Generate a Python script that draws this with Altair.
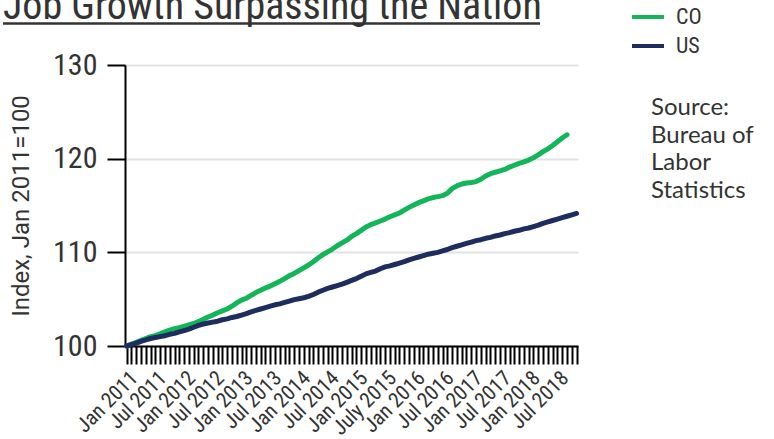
import altair as alt
import pandas as pd

# Monthly employment index, Jan 2011 = 100
co_index = [
    100.0, 100.2, 100.4, 100.6, 100.8, 101.0, 101.1, 101.3, 101.5, 101.7,
    101.85, 101.95, 102.1, 102.25, 102.4, 102.6, 102.85, 103.1, 103.3, 103.55,
    103.75, 103.95, 104.25, 104.6, 104.9, 105.1, 105.4, 105.7, 105.95, 106.2,
    106.4, 106.65, 106.9, 107.2, 107.5, 107.75, 108.05, 108.35, 108.65, 109.0,
    109.4, 109.75, 110.05, 110.35, 110.7, 111.0, 111.3, 111.7, 112.0, 112.35,
    112.7, 112.95, 113.15, 113.35, 113.55, 113.8, 114.0, 114.2, 114.5, 114.8,
    115.05, 115.3, 115.5, 115.7, 115.85, 115.95, 116.05, 116.3, 116.8, 117.1,
    117.3, 117.4, 117.45, 117.55, 117.8, 118.15, 118.4, 118.55, 118.7, 118.85,
    119.1, 119.3, 119.5, 119.65, 119.85, 120.1, 120.4, 120.75, 121.05, 121.4,
    121.8, 122.2, 122.55,
]
us_index = [
    100.0, 100.15, 100.3, 100.5, 100.65, 100.8, 100.9, 101.0, 101.1, 101.25,
    101.35, 101.5, 101.65, 101.8, 102.0, 102.2, 102.35, 102.45, 102.55, 102.65,
    102.8, 102.9, 103.05, 103.15, 103.3, 103.45, 103.65, 103.8, 103.95, 104.1,
    104.25, 104.4, 104.5, 104.65, 104.8, 104.95, 105.05, 105.15, 105.3, 105.5,
    105.75, 105.95, 106.15, 106.3, 106.45, 106.6, 106.8, 107.0, 107.2, 107.45,
    107.7, 107.85, 108.0, 108.25, 108.45, 108.55, 108.7, 108.85, 109.0, 109.2,
    109.35, 109.5, 109.65, 109.8, 109.9, 110.0, 110.15, 110.3, 110.5, 110.65,
    110.8, 110.95, 111.1, 111.25, 111.35, 111.5, 111.6, 111.75, 111.85, 112.0,
    112.1, 112.25, 112.35, 112.5, 112.6, 112.75, 112.9, 113.1, 113.25, 113.4,
    113.55, 113.7, 113.85, 114.0, 114.15,
]
series_names = ["CO", "US"]
series_colors = ["#12b659", "#1e2c5e"]

# Half-year labels shown under every sixth monthly tick
half_year_labels = [
    "Jan 2011", "Jul 2011", "Jan 2012", "Jul 2012", "Jan 2013", "Jul 2013",
    "Jan 2014", "Jul 2014", "Jan 2015", "July 2015", "Jan 2016", "Jul 2016",
    "Jan 2017", "Jul 2017", "Jan 2018", "Jul 2018",
]
y_ticks = [100, 110, 120, 130]
title_text = "Job Growth Surpassing the Nation"
source_lines = ["Source:", "Bureau of", "Labor", "Statistics"]

rows = []
for name, values in zip(series_names, [co_index, us_index]):
    for month, v in enumerate(values):
        rows.append({"month": month, "series": name, "index": v})
df = pd.DataFrame(rows)

n_months = len(us_index)
label_array = "[" + ",".join("'" + s + "'" for s in half_year_labels) + "]"
label_expr = f"datum.value % 6 == 0 ? {label_array}[datum.value / 6] : ''"

narrow = "Roboto Condensed, Liberation Sans Narrow, DejaVu Sans Condensed, Roboto"
ink = "#333333"

lines = alt.Chart(df).mark_line(strokeWidth=5, strokeCap="round", strokeJoin="round").encode(
    x=alt.X(
        "month:Q",
        scale=alt.Scale(domain=[-0.35, n_months - 1 + 0.3], nice=False, zero=False),
        axis=alt.Axis(
            title=None,
            values=list(range(n_months)),
            labelExpr=label_expr,
            labelOverlap=False,
            labelAngle=315,
            labelAlign="right",
            labelBaseline="top",
            labelPadding=3,
            labelFont=narrow,
            labelFontSize=21,
            labelColor=ink,
            tickSize=18,
            tickWidth=2,
            tickColor="#000000",
            domainColor="#000000",
            domainWidth=2,
            grid=False,
        ),
    ),
    y=alt.Y(
        "index:Q",
        scale=alt.Scale(domain=[100, 130], nice=False, zero=False),
        axis=alt.Axis(
            title="Index, Jan 2011=100",
            titleFont="Roboto",
            titleFontSize=24,
            titleFontWeight="normal",
            titleColor=ink,
            titlePadding=19,
            values=y_ticks,
            labelFont=narrow,
            labelFontSize=30,
            labelColor=ink,
            labelPadding=10,
            tickSize=18,
            tickWidth=2,
            tickColor="#000000",
            domainColor="#000000",
            domainWidth=2,
            grid=True,
            gridColor="#e2e2e2",
            gridWidth=2,
        ),
    ),
    color=alt.Color(
        "series:N",
        scale=alt.Scale(domain=series_names, range=series_colors),
        legend=alt.Legend(
            title=None,
            orient="none",
            legendX=505,
            legendY=-66,
            symbolType="stroke",
            symbolSize=1024,
            symbolStrokeWidth=4,
            labelFont=narrow,
            labelFontSize=22,
            labelColor=ink,
            labelOffset=10,
            rowPadding=-4,
        ),
    ),
)

title = alt.Chart(pd.DataFrame({"t": [title_text]})).mark_text(
    font=narrow, fontSize=40, color=ink, align="left", baseline="alphabetic"
).encode(text="t:N", x=alt.value(-122), y=alt.value(-46))

underline = alt.Chart(pd.DataFrame({"t": [0]})).mark_rule(
    color=ink, strokeWidth=2.5
).encode(x=alt.value(-122), x2=alt.value(415), y=alt.value(-41.5))

source = alt.Chart(pd.DataFrame({"t": [source_lines]})).mark_text(
    font="Lato", fontSize=24, color=ink, align="left", baseline="alphabetic", lineHeight=27.7
).encode(text="t", x=alt.value(526), y=alt.value(50))

chart = alt.layer(lines, title, underline, source).properties(
    width=453,
    height=281,
    autosize=alt.AutoSizeParams(type="none"),
    padding={"left": 125, "top": 65, "right": 196, "bottom": 93},
).configure_view(stroke=None)

chart.save("out.html", embed_options={"renderer": "svg", "actions": False})
